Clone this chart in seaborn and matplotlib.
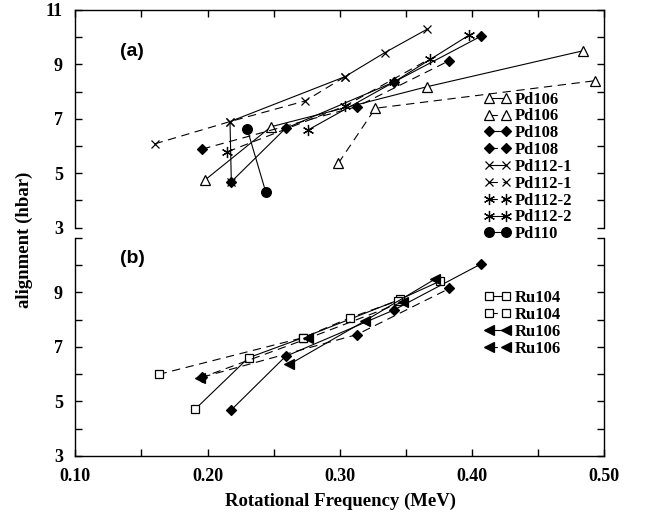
import matplotlib
matplotlib.use("Agg")
import matplotlib.pyplot as plt
import seaborn as sns

sns.set_theme(style="ticks")
plt.rcParams["font.family"] = ["Liberation Serif", "DejaVu Serif"]
plt.rcParams["lines.scale_dashes"] = False
plt.rcParams["axes.edgecolor"] = "black"
plt.rcParams["xtick.color"] = "black"
plt.rcParams["ytick.color"] = "black"
plt.rcParams["text.color"] = "black"

# ---------------- data: panel (a) ----------------
pd106_sol_x = [0.198, 0.248, 0.366, 0.484]
pd106_sol_y = [4.75, 6.71, 8.18, 9.50]
pd106_das_x = [0.299, 0.327, 0.493]
pd106_das_y = [5.37, 7.39, 8.40]
pd108_sol_x = [0.218, 0.259, 0.341, 0.407]
pd108_sol_y = [4.69, 6.65, 8.35, 10.04]
pd108_das_x = [0.196, 0.313, 0.383]
pd108_das_y = [5.89, 7.45, 9.14]
pd112a_sol_x = [0.218, 0.217, 0.304, 0.334, 0.366]
pd112a_sol_y = [4.69, 6.90, 8.55, 9.43, 10.29]
pd112a_das_x = [0.160, 0.217, 0.274, 0.304]
pd112a_das_y = [6.08, 6.90, 7.66, 8.55]
pd112b_das_x = [0.215, 0.304, 0.368]
pd112b_das_y = [5.79, 7.47, 9.20]
pd112b_sol_x = [0.276, 0.341, 0.398]
pd112b_sol_y = [6.59, 8.35, 10.08]
pd110_x = [0.230, 0.244]
pd110_y = [6.63, 4.32]

# ---------------- data: panel (b) ----------------
ru104_sol_x = [0.1905, 0.231, 0.2725, 0.3456, 0.376]
ru104_sol_y = [4.71, 6.60, 7.34, 8.74, 9.41]
ru104_das_x = [0.163, 0.2725, 0.308, 0.344]
ru104_das_y = [5.99, 7.34, 8.07, 8.69]
ru106_sol_x = [0.262, 0.319, 0.372]
ru106_sol_y = [6.36, 7.95, 9.48]
ru106_das_x = [0.194, 0.276, 0.348]
ru106_das_y = [5.85, 7.31, 8.65]

x_ticks = [0.10, 0.20, 0.30, 0.40, 0.50]
x_tick_labels = ["0.10", "0.20", "0.30", "0.40", "0.50"]
y_ticks = [3, 5, 7, 9, 11]

SOLID = "-"
DASH = (0, (6, 4))

fig = plt.figure(figsize=(6.51, 5.18), dpi=100)
ax1 = fig.add_axes([0.1158, 0.5604, 0.812, 0.4203])
ax2 = fig.add_axes([0.1158, 0.1197, 0.812, 0.4214])


def draw(ax, x, y, ls, marker, ms, mfc, label=None):
    sns.lineplot(x=x, y=y, ax=ax, sort=False, estimator=None, color="black",
                 linewidth=0.8, linestyle=ls, marker=marker, markersize=ms,
                 markerfacecolor=mfc, markeredgecolor="black",
                 markeredgewidth=0.9, label=label, legend=False)
    return ax.lines[-1]


STAR = (6, 2, 0)
h_a = []
h_a.append(draw(ax1, pd106_sol_x, pd106_sol_y, SOLID, "^", 7.5, "white", "Pd106"))
h_a.append(draw(ax1, pd106_das_x, pd106_das_y, DASH, "^", 7.5, "white", "Pd106"))
h_a.append(draw(ax1, pd108_sol_x, pd108_sol_y, SOLID, "D", 5, "black", "Pd108"))
h_a.append(draw(ax1, pd108_das_x, pd108_das_y, DASH, "D", 5, "black", "Pd108"))
h_a.append(draw(ax1, pd112a_sol_x, pd112a_sol_y, SOLID, "x", 6, "black", "Pd112-1"))
h_a.append(draw(ax1, pd112a_das_x, pd112a_das_y, DASH, "x", 6, "black", "Pd112-1"))
h_a.append(draw(ax1, pd112b_das_x, pd112b_das_y, DASH, STAR, 8, "black", "Pd112-2"))
h_a.append(draw(ax1, pd112b_sol_x, pd112b_sol_y, SOLID, STAR, 8, "black", "Pd112-2"))
h_a.append(draw(ax1, pd110_x, pd110_y, SOLID, "o", 7, "black", "Pd110"))

draw(ax2, pd108_sol_x, pd108_sol_y, SOLID, "D", 5, "black")
draw(ax2, pd108_das_x, pd108_das_y, DASH, "D", 5, "black")
h_b = []
h_b.append(draw(ax2, ru104_sol_x, ru104_sol_y, SOLID, "s", 6, "white", "Ru104"))
h_b.append(draw(ax2, ru104_das_x, ru104_das_y, DASH, "s", 6, "white", "Ru104"))
h_b.append(draw(ax2, ru106_sol_x, ru106_sol_y, SOLID, "<", 7, "black", "Ru106"))
h_b.append(draw(ax2, ru106_das_x, ru106_das_y, DASH, "<", 7, "black", "Ru106"))

tick_font = dict(family="Liberation Serif", weight="bold", size=13)
for ax in (ax1, ax2):
    ax.set_xlim(0.10, 0.50)
    ax.set_ylim(3, 11)
    ax.set_xticks(x_ticks)
    ax.set_xticks([0.15, 0.25, 0.35, 0.45], minor=True)
    ax.set_yticks(y_ticks)
    ax.set_yticks([4, 6, 8, 10], minor=True)
    ax.tick_params(which="both", direction="in", length=5, width=1.0,
                   left=True, right=True, labelright=False)
    ax.tick_params(axis="y", pad=9)
    ax.tick_params(axis="x", pad=9)
    ax.set_xlabel("")
    ax.set_ylabel("")
    for s in ax.spines.values():
        s.set_linewidth(1.0)
        s.set_color("black")

ax1.spines["bottom"].set_visible(False)
ax1.tick_params(axis="x", which="both", bottom=False, top=True,
                labelbottom=False, labeltop=False)
ax1.set_yticklabels(["3", "5", "7", "9", "11"], fontdict=tick_font)

ax2.spines["top"].set_visible(False)
ax2.tick_params(axis="x", which="both", bottom=True, top=False, labelbottom=True)
ax2.set_xticklabels(x_tick_labels, fontdict=tick_font)
ax2.set_yticklabels(["3", "5", "7", "9", ""], fontdict=tick_font)

leg_font = dict(family="Liberation Serif", weight="bold", size=12)
ax1.legend(handles=h_a, labels=[h.get_label() for h in h_a], loc="upper left",
           bbox_to_anchor=(0.773, 0.625), frameon=False, numpoints=2,
           prop=leg_font, handlelength=1.6, handletextpad=0.25,
           labelspacing=0.05, borderpad=0, borderaxespad=0)
ax2.legend(handles=h_b, labels=[h.get_label() for h in h_b], loc="upper left",
           bbox_to_anchor=(0.773, 0.76), frameon=False, numpoints=2,
           prop=leg_font, handlelength=1.6, handletextpad=0.25,
           labelspacing=0.05, borderpad=0, borderaxespad=0)

ax1.text(0.1337, 9.46, "(a)", family="Liberation Sans", weight="bold",
         size=14, va="center", ha="left")
ax2.text(0.1337, 10.22, "(b)", family="Liberation Sans", weight="bold",
         size=14, va="center", ha="left")

fig.text(0.5223, 0.033, "Rotational Frequency (MeV)", family="Liberation Serif",
         weight="bold", size=13.5, ha="center", va="center")
fig.text(0.037, 0.537, "alignment (hbar)", family="Liberation Serif",
         weight="bold", size=13.5, ha="center", va="center", rotation=90)

fig.savefig("out.png", dpi=100)
